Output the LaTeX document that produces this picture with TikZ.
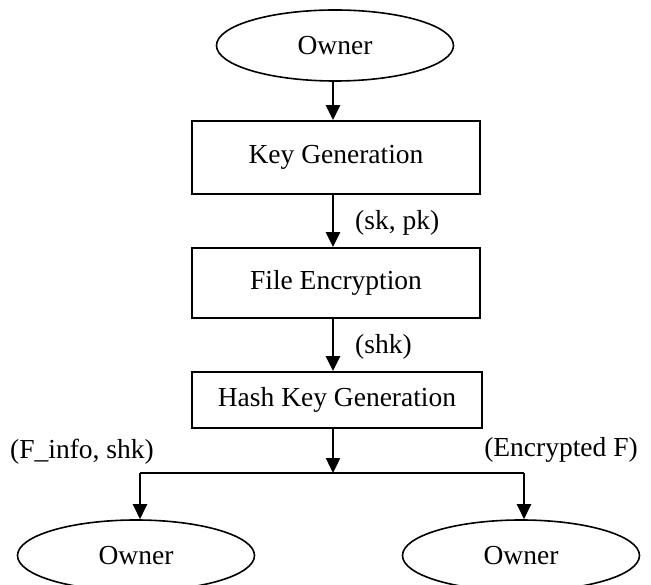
\documentclass[tikz,border=0pt]{standalone}
\usepackage{fontspec}
\setmainfont{Liberation Serif}
\usetikzlibrary{shapes.geometric,arrows.meta}
\begin{document}
\begin{tikzpicture}[x=1pt,y=-1pt,
  every node/.style={font=\fontsize{27.5}{32}\selectfont},
  stepbox/.style={draw, line width=1.8pt, rectangle, inner sep=0pt, minimum width=288pt},
  oval/.style={draw, line width=1.6pt, ellipse, inner sep=0pt, minimum width=237pt, minimum height=71pt},
  arr/.style={line width=2.4pt, -{Triangle[length=15pt,width=14pt]}},
  lbl/.style={inner sep=0pt}]
\useasboundingbox[fill=white] (0,0) rectangle (651,585);
\coordinate (axis) at (333,0);
\node[oval] (top) at (335,45.5) {Owner};
\node[stepbox, minimum height=73pt] (keygen) at (336,157.5) {Key Generation};
\node[stepbox, minimum height=70pt] (fileenc) at (336,283) {File Encryption};
\node[stepbox, minimum width=290pt, minimum height=56pt] (hash) at (337,400) {Hash Key Generation};
\node[oval] (ownerL) at (136,555.5) {Owner};
\node[oval] (ownerR) at (521,555.5) {Owner};
\coordinate (j) at (333,473);
\coordinate (jl) at (140,473);
\coordinate (jr) at (524,473);
\draw[arr] (top.south -| axis) -- (keygen.north -| axis);
\draw[arr] (keygen.south -| axis) -- (fileenc.north -| axis);
\draw[arr] (fileenc.south -| axis) -- (hash.north -| axis);
\draw[arr] (hash.south -| axis) -- (j);
\draw[line width=2.4pt] (jl) -- (jr);
\draw[arr] (jl) -- (ownerL.north -| jl);
\draw[arr] (jr) -- (ownerR.north -| jr);
\node[lbl, anchor=west] (l1) at (355,223) {(sk, pk)};
\node[lbl, anchor=west] (l2) at (355,347) {(shk)};
\node[lbl] (l3) at (82,452) {(F\_info, shk)};
\node[lbl] (l4) at (561,450) {(Encrypted F)};
\end{tikzpicture}
\end{document}
